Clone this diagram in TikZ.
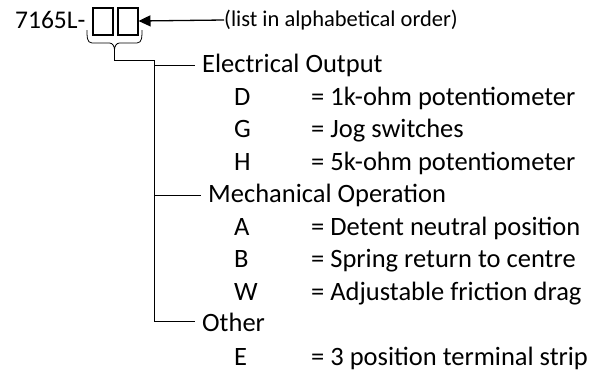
\documentclass[tikz,border=0pt]{standalone}
\usepackage{fontspec}
\setmainfont{Carlito}
\usepackage{tikz}
\usetikzlibrary{arrows.meta, positioning, calc}

\begin{document}
\begin{tikzpicture}[
  x=1pt, y=-1pt,
  code/.style={inner sep=0pt, anchor=base west, font=\fontsize{25.5}{28}\selectfont},
  note/.style={inner sep=0pt, anchor=west, font=\fontsize{22.5}{26}\selectfont},
  slot/.style={rectangle, draw, line width=2pt, minimum width=20pt, minimum height=27pt, inner sep=0pt},
  head/.style={inner sep=0pt, anchor=base west, font=\fontsize{26.5}{30}\selectfont},
  item/.style={inner sep=0pt, anchor=base west, font=\fontsize{26.5}{30}\selectfont},
  arrow/.style={line width=1.3pt, -{Triangle[length=12pt, width=11pt]}},
  tree/.style={line width=1pt, shorten >=7pt}
]
  \useasboundingbox (0,0) rectangle (607,373);
  % part number with two option slots
  \node[code] (code) at (15,28) {7165L-};
  \node[slot] (s1) at (102.5,21) {};
  \node[slot, right=3pt of s1] (s2) {};
  \node[note] (note) at (224,20) {(list in alphabetical order)};
  \draw[arrow] (note.west) -- (s2.east);
  % brace under the slots
  \coordinate (tip) at (114.5,50);
  \draw[line width=0.8pt] (87,30) to[out=-90,in=180] (92,43) -- (109.5,43) to[out=0,in=90] (tip)
    to[out=90,in=180] (119.5,43) -- (137,43) to[out=0,in=-90] (142,30);
  \coordinate (top) at (154,60);
  \draw[line width=1pt] (tip) |- (top);
  % option groups
  \node[head] (EO) at (202,72.5) {Electrical Output};
  \node[item] (D) at (234,105) {D};
  \node[item] (G) at (234,137.5) {G};
  \node[item] (H) at (234,170) {H};
  \node[item] (Dt) at (311,105) {= 1k-ohm potentiometer};
  \node[item] (Gt) at (311,137.5) {= Jog switches};
  \node[item] (Ht) at (311,170) {= 5k-ohm potentiometer};
  \node[head] (MO) at (208,202.5) {Mechanical Operation};
  \node[item] (A) at (234,235) {A};
  \node[item] (B) at (234,267.5) {B};
  \node[item] (W) at (234,300) {W};
  \node[item] (At) at (311,235) {= Detent neutral position};
  \node[item] (Bt) at (311,267.5) {= Spring return to centre};
  \node[item] (Wt) at (311,300) {= Adjustable friction drag};
  \node[head] (OT) at (202,331) {Other};
  \node[item] (E) at (234,365) {E};
  \node[item] (Et) at (311,365) {= 3 position terminal strip};
  \draw[tree] (top) |- (EO.west);
  \draw[tree] (top) |- (MO.west);
  \draw[tree] (top) |- (OT.west);
\end{tikzpicture}
\end{document}
